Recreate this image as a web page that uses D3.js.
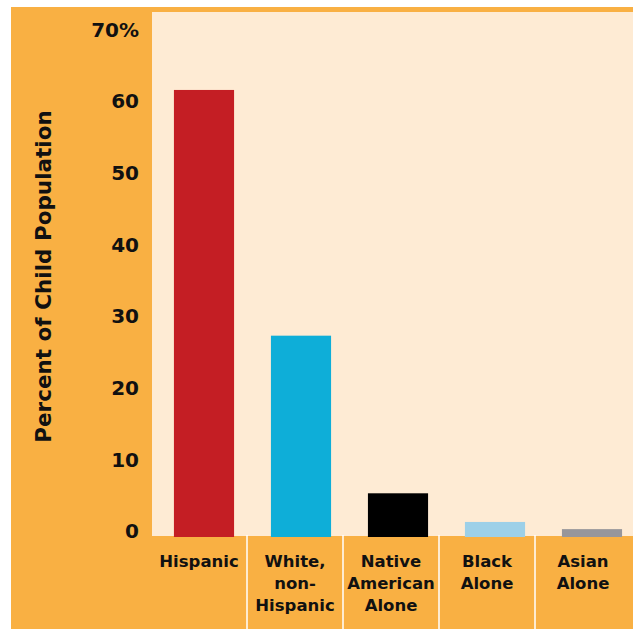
<!DOCTYPE html>
<html>
<head>
<meta charset="utf-8">
<script src="https://cdn.jsdelivr.net/npm/d3@7"></script>
<style>
  html, body { margin: 0; padding: 0; background: #fff; }
  svg text { font-family: "DejaVu Sans", sans-serif; font-weight: bold; fill: #111; }
</style>
</head>
<body>
<svg id="chart" width="633" height="629"></svg>
<script>
// groups and their share of the child population (percent)
var categories = ["Hispanic", "White, non-Hispanic", "Native American Alone", "Black Alone", "Asian Alone"];
var labelLines = [["Hispanic"], ["White,", "non-", "Hispanic"], ["Native", "American", "Alone"], ["Black", "Alone"], ["Asian", "Alone"]];
var values = [62.4, 28.1, 6.1, 2.1, 1.1];
var barColors = ["#c41e24", "#0eaed8", "#000000", "#9dd0e8", "#97969b"];
var yTicks = [0, 10, 20, 30, 40, 50, 60, 70];

var svg = d3.select("#chart");
var orange = "#f9b043", peach = "#feebd4";

// orange frame and plot panel
svg.append("rect").attr("x", 11).attr("y", 7).attr("width", 622).attr("height", 622).attr("fill", orange);
svg.append("rect").attr("x", 152).attr("y", 12).attr("width", 481).attr("height", 524).attr("fill", peach);

var y = d3.scaleLinear().domain([0, 70]).range([537, 35.5]);
var x = d3.scaleBand().domain(categories).range([155.5, 640.5]).paddingInner(0.38).paddingOuter(0.19);
var cell = d3.scaleBand().domain(categories).range([151, 631]);

// bars
svg.append("g").selectAll("rect").data(values).enter().append("rect")
  .attr("x", function(d, i) { return x(categories[i]); })
  .attr("width", x.bandwidth())
  .attr("y", function(d) { return y(d); })
  .attr("height", function(d) { return y(0) - y(d); })
  .attr("fill", function(d, i) { return barColors[i]; });

// white separators between category cells
svg.append("g").selectAll("line").data(categories.slice(1)).enter().append("line")
  .attr("x1", function(d) { return cell(d); }).attr("x2", function(d) { return cell(d); })
  .attr("y1", 535).attr("y2", 629)
  .attr("stroke", "#fff").attr("stroke-width", 1.5);

// y tick labels
svg.append("g").selectAll("text").data(yTicks).enter().append("text")
  .attr("x", 139)
  .attr("y", function(d) { return y(d) - 6; })
  .attr("dy", "0.36em")
  .attr("text-anchor", "end")
  .style("font-size", "20px")
  .text(function(d) { return d === 70 ? "70%" : d; });

// category labels
var lab = svg.append("g").selectAll("text").data(categories).enter().append("text")
  .attr("text-anchor", "middle")
  .style("font-size", "16.5px")
  .attr("transform", function(d) { return "translate(" + (cell(d) + cell.bandwidth() / 2) + ",567)"; });
lab.selectAll("tspan").data(function(d, i) { return labelLines[i]; }).enter().append("tspan")
  .attr("x", 0)
  .attr("y", function(d, j) { return j * 22; })
  .text(function(d) { return d; });

// axis title
svg.append("text")
  .attr("transform", "translate(51,276.5) rotate(-90)")
  .attr("text-anchor", "middle")
  .style("font-size", "21.5px")
  .text("Percent of Child Population");
</script>
</body>
</html>
